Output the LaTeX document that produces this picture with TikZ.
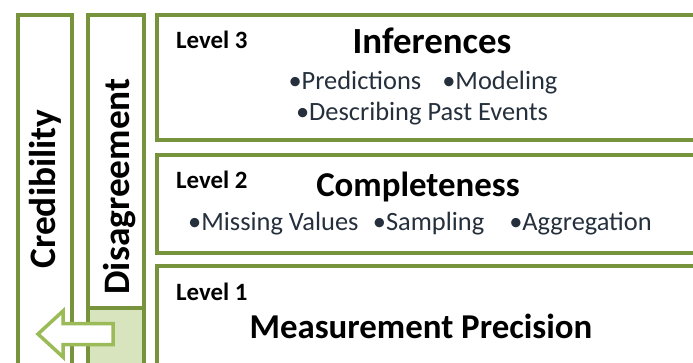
\documentclass[tikz,border=0pt]{standalone}
\usepackage{fontspec}
\setmainfont{Carlito}
\definecolor{boxgreen}{HTML}{77933C}
\definecolor{arrowgreen}{HTML}{9BBB59}
\definecolor{lightfill}{HTML}{D7E4BD}
\definecolor{itemtext}{HTML}{25303C}
\begin{document}
\begin{tikzpicture}[x=1bp,y=-1bp,
  frame/.style={draw=boxgreen,line width=4bp},
  lvl/.style={font=\fontsize{25}{28}\selectfont\bfseries,anchor=base west,inner sep=0pt},
  head/.style={font=\fontsize{35}{40}\selectfont\bfseries,anchor=base,inner sep=0pt},
  item/.style={font=\fontsize{26.5}{30}\selectfont,text=itemtext,anchor=base,inner sep=0pt},
  side/.style={font=\fontsize{37.5}{42}\selectfont\bfseries,rotate=90,anchor=base,inner sep=0pt}]
\useasboundingbox (0,0) rectangle (693,362);
\begin{scope}
\clip (0,0) rectangle (693,362);
\fill[white] (0,0) rectangle (693,362);
% left columns
\draw[frame] (18,380) -- (18,15) -- (72,15) -- (72,380);
\fill[lightfill] (87.5,307.5) rectangle (144,380);
\draw[frame] (87.5,380) -- (87.5,15) -- (144,15) -- (144,380);
\draw[frame] (87.5,307.5) -- (144,307.5);
% level boxes
\draw[frame] (720,14.5) -- (157,14.5) -- (157,139.5) -- (720,139.5);
\draw[frame] (720,154.5) -- (157,154.5) -- (157,252.5) -- (720,252.5);
\draw[frame] (720,265.5) -- (157,265.5) -- (157,380);
% arrow
\draw[draw=arrowgreen,fill=white,line width=3.5bp,line join=miter]
  (38,334) -- (63,311) -- (63,323.5) -- (113,323.5) -- (113,344.5) -- (63,344.5) -- (63,357) -- cycle;
\end{scope}
% side labels
\node[side] (cred) at (55,189) {Credibility};
\node[side] (disag) at (129,186.5) {Disagreement};
% level 3
\node[lvl] (l3) at (176,48) {Level 3};
\node[head,font=\fontsize{37}{42}\selectfont\bfseries] (inf) at (432,53) {Inferences};
\node[item] (pm) at (423,89) {•Predictions\hspace{0.8em}•Modeling};
\node[item] (dpe) at (422,120) {•Describing Past Events};
% level 2
\node[lvl] (l2) at (176,188) {Level 2};
\node[head] (comp) at (418,196) {Completeness};
\node[item] (msa) at (420,230) {•Missing Values\hspace{0.55em}•Sampling\hspace{0.95em}•Aggregation};
% level 1
\node[lvl] (l1) at (176,300) {Level 1};
\node[head] (mp) at (421,338) {Measurement Precision};
\end{tikzpicture}
\end{document}
